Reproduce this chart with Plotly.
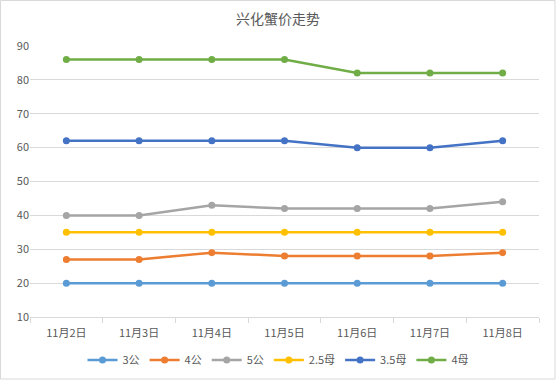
import plotly.graph_objects as go

dates = ["11月2日", "11月3日", "11月4日", "11月5日", "11月6日", "11月7日", "11月8日"]
s_3gong = [20, 20, 20, 20, 20, 20, 20]
s_4gong = [27, 27, 29, 28, 28, 28, 29]
s_5gong = [40, 40, 43, 42, 42, 42, 44]
s_25mu = [35, 35, 35, 35, 35, 35, 35]
s_35mu = [62, 62, 62, 62, 60, 60, 62]
s_4mu = [86, 86, 86, 86, 82, 82, 82]

series = [
    ("3公", s_3gong, "#5B9BD5"),
    ("4公", s_4gong, "#ED7D31"),
    ("5公", s_5gong, "#A5A5A5"),
    ("2.5母", s_25mu, "#FFC000"),
    ("3.5母", s_35mu, "#4472C4"),
    ("4母", s_4mu, "#70AD47"),
]

font_family = "Noto Sans CJK SC, Microsoft YaHei, sans-serif"

fig = go.Figure()
for name, vals, color in series:
    fig.add_trace(go.Scatter(
        x=dates, y=vals, name=name, mode="lines+markers",
        line=dict(color=color, width=2.5),
        marker=dict(color=color, size=7),
    ))

fig.update_layout(
    width=556, height=380,
    paper_bgcolor="white", plot_bgcolor="white",
    margin=dict(l=30, r=17, t=46, b=63, autoexpand=False),
    title=dict(text="兴化蟹价走势", x=0.5, xanchor="center", y=0.95, yanchor="middle",
               font=dict(family=font_family, size=14, color="#595959")),
    font=dict(family=font_family, size=11, color="#595959"),
    showlegend=True,
    legend=dict(orientation="h", x=0.5, xanchor="center", xref="container",
                y=20/380, yanchor="middle", yref="container",
                font=dict(size=11, color="#595959"), itemwidth=30, tracegroupgap=0),
    xaxis=dict(type="category", range=[-0.5, 6.5], showgrid=False, automargin=False,
               showline=True, linecolor="#D9D9D9", linewidth=1,
               ticks="outside", tickson="boundaries", ticklen=5, tickcolor="#D9D9D9",
               ticklabelstandoff=6,
               tickfont=dict(size=11, color="#595959")),
    yaxis=dict(range=[10, 90], dtick=10, showgrid=True, gridcolor="#D9D9D9", gridwidth=1,
               zeroline=False, showline=False, ticks="", automargin=False,
               tickfont=dict(size=11, color="#595959")),
    shapes=[dict(type="rect", xref="paper", yref="paper", x0=-29.5/509, x1=1+16/509,
                 y0=-62/271, y1=1+45.5/271, line=dict(color="#D9D9D9", width=1))],
)

fig.write_html("out.html", config={"displayModeBar": False},
               post_script="document.body.style.margin='0';")
